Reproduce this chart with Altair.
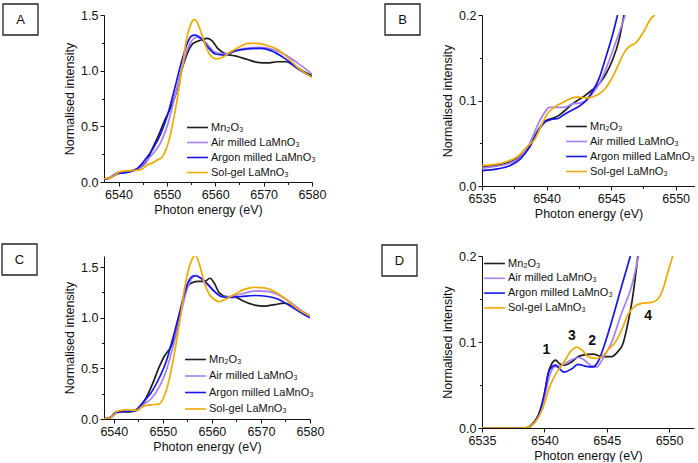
import altair as alt
import pandas as pd

FONT = "Liberation Sans"
SERIES = ["Mn₂O₃", "Air milled LaMnO₃", "Argon milled LaMnO₃", "Sol-gel LaMnO₃"]
COLORS = ["#1e1e1e", "#a47ef5", "#1414f0", "#f2a900"]

# ---------------- Panel A (full XANES) ----------------
a_mn_e = [6537, 6538, 6539, 6540, 6541, 6542, 6543, 6544, 6545, 6546, 6547, 6548.1, 6549.5, 6550.9, 6551.9, 6552.9, 6554, 6555.3, 6556.7, 6558.3, 6559.3, 6560.5, 6562.2, 6564.3, 6566.7, 6568.7, 6570.8, 6572.9, 6574.6, 6576.3, 6578, 6580]
a_mn_v = [0.028, 0.035, 0.06, 0.078, 0.083, 0.096, 0.106, 0.12, 0.147, 0.2, 0.3, 0.40, 0.55, 0.68, 0.80, 0.98, 1.13, 1.24, 1.27, 1.29, 1.27, 1.2, 1.15, 1.13, 1.10, 1.075, 1.07, 1.08, 1.08, 1.045, 1.0, 0.955]
a_air_e = [6537, 6538, 6539, 6540, 6541, 6542, 6543, 6544, 6545, 6546, 6547.4, 6548.8, 6550.2, 6551.5, 6552.9, 6554, 6555, 6556.2, 6557.2, 6558.5, 6560, 6562, 6564, 6567, 6569.5, 6572, 6575, 6577, 6580]
a_air_v = [0.027, 0.034, 0.066, 0.088, 0.092, 0.096, 0.099, 0.117, 0.153, 0.2, 0.27, 0.36, 0.52, 0.74, 0.98, 1.16, 1.26, 1.30, 1.285, 1.23, 1.165, 1.15, 1.18, 1.205, 1.21, 1.19, 1.13, 1.07, 0.97]
a_ar_e = [6537, 6538, 6539, 6540, 6541, 6542, 6543, 6544, 6545, 6545.5, 6547, 6548.8, 6550.2, 6551.5, 6552.9, 6554, 6555, 6555.8, 6557.1, 6558.5, 6560, 6562, 6564, 6566.7, 6569.4, 6571.5, 6574.2, 6577, 6580]
a_ar_v = [0.024, 0.032, 0.055, 0.077, 0.081, 0.089, 0.099, 0.125, 0.172, 0.2, 0.29, 0.44, 0.61, 0.82, 1.06, 1.22, 1.31, 1.32, 1.29, 1.21, 1.15, 1.14, 1.175, 1.195, 1.2, 1.18, 1.115, 1.02, 0.945]
a_sg_e = [6537, 6538, 6539, 6540, 6541, 6542, 6543, 6544, 6545, 6546, 6547, 6548, 6549.1, 6550.2, 6551.2, 6552.2, 6553.3, 6554, 6554.8, 6555.7, 6556.7, 6557.7, 6558.8, 6560.3, 6561.5, 6563.2, 6565.3, 6566.7, 6568.7, 6570.8, 6572.9, 6574.9, 6577, 6580]
a_sg_v = [0.029, 0.035, 0.053, 0.085, 0.098, 0.103, 0.102, 0.106, 0.12, 0.155, 0.17, 0.197, 0.23, 0.34, 0.52, 0.76, 1.06, 1.27, 1.40, 1.46, 1.39, 1.26, 1.15, 1.105, 1.12, 1.17, 1.22, 1.245, 1.245, 1.225, 1.19, 1.12, 1.03, 0.94]

# ---------------- Panel B (pre-edge, same samples) ----------------
b_mn_e = [6535, 6537.2, 6538, 6538.7, 6539.3, 6539.9, 6540.4, 6540.9, 6541.4, 6542, 6542.5, 6543, 6543.5, 6544.1, 6544.6, 6545.1, 6545.6, 6546]
b_mn_v = [0.022, 0.028, 0.035, 0.046, 0.064, 0.076, 0.079, 0.082, 0.088, 0.096, 0.101, 0.106, 0.112, 0.12, 0.131, 0.147, 0.17, 0.2]
b_air_e = [6535, 6537.2, 6538, 6538.7, 6539.3, 6539.9, 6540.2, 6540.9, 6541.4, 6542, 6542.5, 6543, 6543.5, 6544.1, 6544.6, 6545.1, 6545.6, 6546.1]
b_air_v = [0.021, 0.027, 0.034, 0.05, 0.071, 0.087, 0.092, 0.092, 0.092, 0.096, 0.097, 0.099, 0.107, 0.12, 0.137, 0.157, 0.178, 0.2]
b_ar_e = [6535, 6536.2, 6537.2, 6538, 6538.7, 6539.3, 6539.9, 6540.4, 6540.9, 6541.4, 6542, 6542.5, 6543, 6543.5, 6544.1, 6544.6, 6545.1, 6545.5]
b_ar_v = [0.018, 0.02, 0.024, 0.032, 0.046, 0.063, 0.075, 0.078, 0.079, 0.084, 0.089, 0.093, 0.099, 0.109, 0.127, 0.151, 0.176, 0.2]
b_sg_e = [6535, 6535.9, 6537, 6537.8, 6538.5, 6539.1, 6539.6, 6540.1, 6540.6, 6541.3, 6542, 6542.5, 6543, 6543.5, 6544.1, 6544.6, 6545.1, 6546.15, 6546.5, 6546.9, 6547.5, 6548.1, 6548.4]
b_sg_v = [0.024, 0.025, 0.029, 0.035, 0.046, 0.055, 0.071, 0.085, 0.092, 0.098, 0.103, 0.104, 0.103, 0.104, 0.108, 0.115, 0.127, 0.159, 0.164, 0.167, 0.18, 0.196, 0.2]

# ---------------- Panel C (full XANES, second set) ----------------
c_mn_e = [6538, 6539.5, 6540.5, 6542, 6544, 6545.2, 6546.6, 6548, 6549.3, 6550.3, 6551.7, 6552.7, 6553.7, 6554.7, 6555.7, 6557.1, 6558.5, 6559.6, 6560.5, 6561.5, 6562.9, 6564.6, 6566.6, 6568.7, 6570.7, 6572.8, 6574.8, 6576.8, 6580]
c_mn_v = [0, 0.02, 0.07, 0.07, 0.075, 0.1, 0.21, 0.36, 0.52, 0.62, 0.72, 0.85, 1.08, 1.28, 1.34, 1.36, 1.36, 1.39, 1.34, 1.245, 1.21, 1.205, 1.16, 1.125, 1.115, 1.13, 1.145, 1.1, 1.01]
c_air_e = [6538, 6539.5, 6540.5, 6542, 6544, 6545, 6546.2, 6547.6, 6549.3, 6550.7, 6552, 6553.4, 6554.4, 6555.4, 6556.8, 6558, 6559.2, 6560.5, 6562, 6563.6, 6566, 6569, 6571.4, 6573.4, 6575.5, 6578, 6580]
c_air_v = [0, 0.02, 0.06, 0.075, 0.08, 0.1, 0.15, 0.2, 0.32, 0.48, 0.70, 0.98, 1.19, 1.34, 1.42, 1.38, 1.32, 1.26, 1.21, 1.21, 1.235, 1.265, 1.26, 1.23, 1.17, 1.08, 1.02]
c_ar_e = [6538, 6539.5, 6540.5, 6542, 6544, 6545, 6546.2, 6547.6, 6549.3, 6550.7, 6552, 6553.4, 6554.4, 6555.4, 6556.4, 6557.8, 6559.2, 6560.5, 6561.9, 6563.6, 6566, 6568.7, 6571.4, 6573.4, 6575.5, 6578.2, 6580]
c_ar_v = [0, 0.02, 0.065, 0.075, 0.08, 0.11, 0.18, 0.26, 0.41, 0.57, 0.79, 1.05, 1.245, 1.375, 1.415, 1.39, 1.33, 1.26, 1.21, 1.20, 1.21, 1.22, 1.21, 1.185, 1.13, 1.05, 1.0]
c_sg_e = [6538, 6539.3, 6540.2, 6540.6, 6541.5, 6542.5, 6543.5, 6544.5, 6545.5, 6546.2, 6547.6, 6549.3, 6550.3, 6551.3, 6552.4, 6553.4, 6554.4, 6555.2, 6556.1, 6556.6, 6557.5, 6558.5, 6559.5, 6560.5, 6561.5, 6562.6, 6564.6, 6566.6, 6568.7, 6570.7, 6572.8, 6574.8, 6576.8, 6580]
c_sg_v = [0, 0.015, 0.05, 0.075, 0.085, 0.09, 0.088, 0.088, 0.11, 0.13, 0.14, 0.15, 0.23, 0.39, 0.66, 0.95, 1.28, 1.47, 1.59, 1.62, 1.52, 1.34, 1.23, 1.18, 1.16, 1.18, 1.23, 1.28, 1.30, 1.295, 1.26, 1.195, 1.11, 1.015]

# ---------------- Panel D (pre-edge, second set) ----------------
d_mn_e = [6535, 6538.5, 6539, 6539.5, 6539.9, 6540.3, 6540.6, 6540.9, 6541.2, 6541.6, 6542.2, 6542.7, 6543.2, 6543.9, 6544.6, 6545.4, 6545.9, 6546.3, 6546.7, 6547.1, 6547.5]
d_mn_v = [0, 0, 0.004, 0.014, 0.031, 0.063, 0.075, 0.079, 0.075, 0.073, 0.077, 0.083, 0.085, 0.086, 0.083, 0.083, 0.089, 0.098, 0.122, 0.154, 0.2]
d_air_e = [6535, 6538.5, 6539.5, 6540, 6540.4, 6540.8, 6541.4, 6542, 6542.7, 6543.2, 6543.8, 6544.2, 6544.7, 6545.4, 6546.2, 6547, 6547.55]
d_air_v = [0, 0, 0.012, 0.035, 0.06, 0.071, 0.073, 0.078, 0.082, 0.079, 0.072, 0.071, 0.081, 0.10, 0.134, 0.165, 0.2]
d_ar_e = [6535, 6538.5, 6539.5, 6540, 6540.4, 6540.9, 6541.2, 6541.6, 6542.2, 6542.7, 6543.25, 6543.9, 6544.3, 6544.85, 6545.4, 6546.2, 6546.9]
d_ar_v = [0, 0, 0.014, 0.04, 0.067, 0.073, 0.069, 0.065, 0.069, 0.074, 0.072, 0.071, 0.077, 0.098, 0.124, 0.165, 0.2]
d_sg_e = [6535, 6538.3, 6538.7, 6539.2, 6539.9, 6540.4, 6541, 6541.5, 6542.1, 6542.6, 6543, 6543.5, 6544.1, 6544.6, 6545.1, 6545.7, 6546.2, 6546.7, 6547.3, 6547.8, 6548.6, 6549.1, 6549.5, 6549.9, 6550.3]
d_sg_v = [0, 0, 0.001, 0.006, 0.024, 0.047, 0.065, 0.075, 0.089, 0.094, 0.091, 0.083, 0.081, 0.083, 0.091, 0.10, 0.114, 0.132, 0.142, 0.145, 0.146, 0.15, 0.161, 0.181, 0.2]

d_note_text = ["1", "3", "2", "4"]
d_note_e = [6540.17, 6542.2, 6543.84, 6548.33]
d_note_v = [0.091, 0.107, 0.1016, 0.13]

X_AC_TICKS = [6540, 6545, 6550, 6555, 6560, 6565, 6570, 6575, 6580]
X_BD_TICKS = [6535, 6537.5, 6540, 6542.5, 6545, 6547.5, 6550]
Y_AC_TICKS = [0, 0.25, 0.5, 0.75, 1.0, 1.25, 1.5]
Y_BD_TICKS = [0, 0.05, 0.1, 0.15, 0.2]


def long_df(pairs):
    rows = []
    for name, es, vs in pairs:
        for e, v in zip(es, vs):
            rows.append({"series": name, "energy": e, "value": v})
    return pd.DataFrame(rows)


def panel(df, xdom, xticks, xmajor, ydom, yticks, ymajor100, w, h, leg, box, letter, extra=None):
    xaxis = alt.Axis(
        values=xticks, title="Photon energy (eV)", format="d",
        labelExpr=f"datum.value % {xmajor} == 0 ? datum.label : ''",
        tickSize={"condition": {"test": f"datum.value % {xmajor} != 0", "value": 2.5}, "value": 4},
        labelFlush=False, labelOverlap=False, grid=False, titlePadding=3,
    )
    yaxis = alt.Axis(
        values=yticks, title="Normalised intensity",
        labelExpr=f"round(datum.value*100) % {ymajor100} == 0 ? format(datum.value, '.1f') : ''",
        tickSize={"condition": {"test": f"round(datum.value*100) % {ymajor100} != 0", "value": 2.5}, "value": 4},
        labelFlush=False, labelOverlap=False, grid=False, titlePadding=4,
    )
    lines = alt.Chart(df).mark_line(strokeWidth=1.7, interpolate="monotone", clip=True).encode(
        x=alt.X("energy:Q", scale=alt.Scale(domain=xdom, nice=False, zero=False), axis=xaxis),
        y=alt.Y("value:Q", scale=alt.Scale(domain=ydom, nice=False), axis=yaxis),
        color=alt.Color(
            "series:N", sort=SERIES,
            scale=alt.Scale(domain=SERIES, range=COLORS),
            legend=alt.Legend(
                orient="none", legendX=leg[0], legendY=leg[1], title=None,
                symbolType="M-1.6,0H1.6", symbolSize=169, symbolStrokeWidth=1.6,
                labelFontSize=11, labelFont=FONT, labelColor="#111",
                labelOffset=6, rowPadding=leg[2], padding=0,
            ),
        ),
        detail="series:N",
    )
    lab = pd.DataFrame({"t": [letter]})
    rect = alt.Chart(lab).mark_rect(fill="white", stroke="#222", strokeWidth=1.3).encode(
        x=alt.value(box[0]), x2=alt.value(box[0] + 35),
        y=alt.value(box[1]), y2=alt.value(box[1] + 31),
    )
    txt = alt.Chart(lab).mark_text(font=FONT, fontSize=13, color="#111", align="center", baseline="middle").encode(
        x=alt.value(box[0] + 17.5), y=alt.value(box[1] + 15.5), text="t:N",
    )
    layers = [lines, rect, txt]
    if extra is not None:
        layers.append(extra)
    return alt.layer(*layers).properties(width=w, height=h)


df_a = long_df([(SERIES[0], a_mn_e, a_mn_v), (SERIES[1], a_air_e, a_air_v), (SERIES[2], a_ar_e, a_ar_v), (SERIES[3], a_sg_e, a_sg_v)])
df_b = long_df([(SERIES[0], b_mn_e, b_mn_v), (SERIES[1], b_air_e, b_air_v), (SERIES[2], b_ar_e, b_ar_v), (SERIES[3], b_sg_e, b_sg_v)])
df_c = long_df([(SERIES[0], c_mn_e, c_mn_v), (SERIES[1], c_air_e, c_air_v), (SERIES[2], c_ar_e, c_ar_v), (SERIES[3], c_sg_e, c_sg_v)])
df_d = long_df([(SERIES[0], d_mn_e, d_mn_v), (SERIES[1], d_air_e, d_air_v), (SERIES[2], d_ar_e, d_ar_v), (SERIES[3], d_sg_e, d_sg_v)])

notes = pd.DataFrame({"t": d_note_text, "energy": d_note_e, "value": d_note_v})
d_notes = alt.Chart(notes).mark_text(font=FONT, fontSize=14, fontWeight="bold", color="#111").encode(
    x=alt.X("energy:Q"), y=alt.Y("value:Q"), text="t:N",
)

pa = panel(df_a, [6537, 6580], X_AC_TICKS, 10, [0, 1.5], Y_AC_TICKS, 50, 208, 167, (86, 105, 2), (-101, -11), "A")
pb = panel(df_b, [6535, 6551.5], X_BD_TICKS, 5, [0, 0.2], Y_BD_TICKS, 10, 213, 171, (87, 104, 2), (-97, -11), "B")
pc = panel(df_c, [6538, 6580], X_AC_TICKS, 10, [0, 1.61], Y_AC_TICKS, 50, 206, 163, (84, 96, 3.5), (-102, -12), "C")
pd_ = panel(df_d, [6535, 6552], X_BD_TICKS, 5, [0, 0.2], Y_BD_TICKS, 10, 212, 172, (5, 0, 1.8), (-100, -11), "D", d_notes)

chart = alt.concat(
    pa, pb, pc, pd_, columns=2, bounds="flush", align="each",
    spacing={"row": 70, "column": 170},
).resolve_scale(color="independent").properties(
    padding={"left": 1, "top": 3, "right": 0, "bottom": 0}
).configure_view(stroke=None).configure_axis(
    domainColor="#111", tickColor="#111", labelColor="#111", titleColor="#111",
    labelFont=FONT, titleFont=FONT, labelFontSize=12.5, titleFontSize=12.5,
    titleFontWeight="normal", domainWidth=1, tickWidth=1,
)

chart.save("out.html", embed_options={"renderer": "svg", "actions": False})
